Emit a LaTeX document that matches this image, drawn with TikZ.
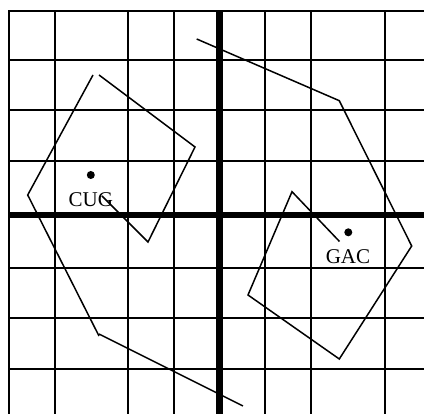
\documentclass[tikz,border=0pt]{standalone}
\usepackage{fontspec}
\setmainfont{Liberation Serif}
\begin{document}
\begin{tikzpicture}[x=1pt,y=-1pt,
  gridline/.style={line width=2pt},
  axisline/.style={line width=6.5pt},
  shapeline/.style={line width=1.5pt, line join=miter},
  dotmark/.style={circle, fill=black, inner sep=0pt, minimum size=8pt},
  lbl/.style={anchor=base, inner sep=0pt, font=\fontsize{21}{25}\selectfont}]
\useasboundingbox (0,0) rectangle (424,414);
\clip (0,0) rectangle (424,414);
% grid
\foreach \x in {54.7,128,173.7,265,311,385} \draw[gridline] (\x,10.7) -- (\x,414);
\foreach \y in {60,110,160.7,268,318,369} \draw[gridline] (9,\y) -- (424,\y);
\draw[gridline, line join=miter] (9,414) -- (9,10.7) -- (424,10.7);
% axes
\draw[axisline] (219.7,10.7) -- (219.7,414);
\draw[axisline] (9,215) -- (424,215);
% left figure
\draw[shapeline] (93,75) -- (27.7,195) -- (99,336);
\draw[shapeline] (99,334) -- (243,406);
\draw[shapeline] (99,75) -- (195,147) -- (148,242) -- (102,196);
% right figure
\draw[shapeline] (196.7,39) -- (339.3,100.7) -- (411.7,246) -- (339.3,359) -- (248,295) -- (292,191.7) -- (339.5,241.5);
% dots and labels
\node[dotmark] (cugdot) at (90.8,175) {};
\node[lbl] (cug) at (90.8,206.5) {CUG};
\node[dotmark] (gacdot) at (348.3,232.3) {};
\node[lbl] (gac) at (348,263.3) {GAC};
\end{tikzpicture}
\end{document}
